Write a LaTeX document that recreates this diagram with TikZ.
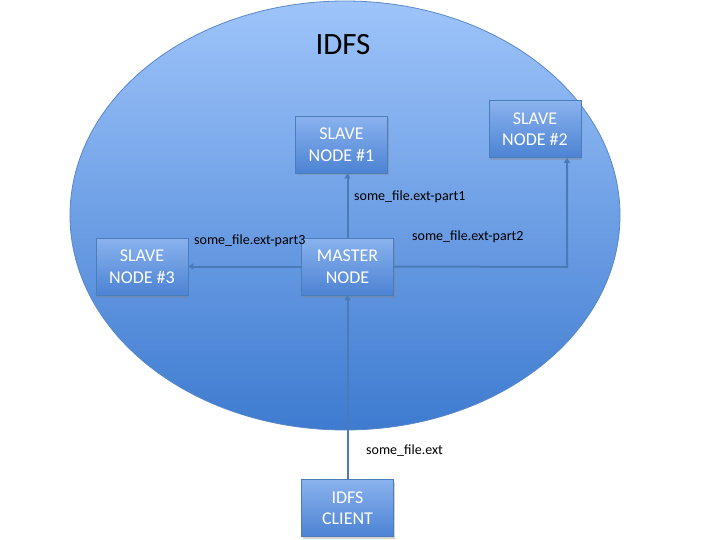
\documentclass[tikz,border=0pt]{standalone}
\usepackage{fontspec}
\setmainfont{Carlito}
\usetikzlibrary{arrows.meta,shadows}
\definecolor{ellTop}{HTML}{9EC4FA}
\definecolor{ellBot}{HTML}{3E7BD0}
\definecolor{ellLine}{HTML}{5A88C8}
\definecolor{boxTop}{HTML}{8AB2EE}
\definecolor{boxBot}{HTML}{4C83D3}
\definecolor{boxLine}{HTML}{4A7EBB}
\definecolor{arrowCol}{HTML}{4A7AB8}
\tikzset{
  nodebox/.style={rectangle, draw=boxLine, line width=0.6pt,
    top color=boxTop, bottom color=boxBot,
    minimum width=92pt, minimum height=57pt, inner sep=1pt,
    align=center, text=white, font=\fontsize{18}{21.5}\selectfont,
    drop shadow={shadow xshift=1pt, shadow yshift=-2.5pt, opacity=0.35}},
  flow/.style={draw=arrowCol, line width=2pt,
    -{Triangle[length=5pt,width=6pt]}},
  lbl/.style={font=\fontsize{14}{16}\selectfont, text=black, inner sep=0pt}
}
\begin{document}
\begin{tikzpicture}[x=1pt,y=-1pt]
\useasboundingbox (0,0) rectangle (720,540);
\fill[white] (0,0) rectangle (720,540);
\draw[draw=ellLine, line width=0.8pt, top color=ellTop, bottom color=ellBot]
  (345,215.5) ellipse [x radius=275, y radius=214.5];
\node[font=\fontsize{31}{34}\selectfont, text=black] (title) at (343,45) {IDFS};
\node[nodebox] (s1) at (341.5,144.5) {SLAVE\\NODE \#1};
\node[nodebox] (s2) at (535,129) {SLAVE\\NODE \#2};
\node[nodebox] (s3) at (142,266.5) {SLAVE\\NODE \#3};
\node[nodebox] (m) at (347.5,266.5) {MASTER\\NODE};
\node[nodebox] (c) at (347.5,508) {IDFS\\CLIENT};
\coordinate (corner) at (567,267);
\draw[flow] (m.north) -- (s1.south -| m.north);
\draw[flow] (m.west) -- (s3.east);
\draw[flow] (m.east) -- (corner) -- (corner |- s2.south);
\draw[flow] (c.north) -- (m.south);
\node[lbl, anchor=west] (l1) at (354,197) {some\_file.ext-part1};
\node[lbl, anchor=west] (l3) at (194,241) {some\_file.ext-part3};
\node[lbl, anchor=west] (l2) at (412,237) {some\_file.ext-part2};
\node[lbl, anchor=west] (l0) at (366,451) {some\_file.ext};
\end{tikzpicture}
\end{document}
